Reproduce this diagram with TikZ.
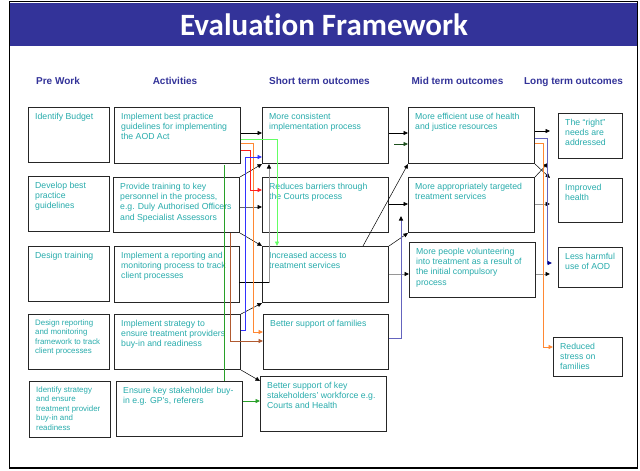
\documentclass[tikz,border=0pt]{standalone}
\usepackage{fontspec}
\setmainfont{Liberation Sans}
\newfontfamily\titlefont[Ligatures=NoCommon]{Carlito}
\usetikzlibrary{arrows.meta,calc}
\definecolor{band}{RGB}{51,51,153}
\definecolor{tealtxt}{RGB}{40,172,172}
\definecolor{cgreen}{RGB}{40,160,40}
\definecolor{clgreen}{RGB}{100,255,100}
\definecolor{corange}{RGB}{255,136,51}
\definecolor{cred}{RGB}{255,30,30}
\definecolor{cblue}{RGB}{50,50,255}
\definecolor{cbrown}{RGB}{176,90,48}
\definecolor{cpurple}{RGB}{100,100,190}
\definecolor{cdgreen}{RGB}{30,80,30}
\definecolor{cnavy}{RGB}{0,0,140}
\definecolor{cgray}{RGB}{150,150,150}
\tikzset{
  bx/.style={draw=black!85, line width=1pt, fill=white, inner sep=0pt},
  txt/.style={inner sep=0pt, align=left, text=tealtxt, font=\fontsize{8.7}{10.4}\selectfont},
  smalltxt/.style={font=\fontsize{7.9}{9.5}\selectfont},
  hdr/.style={text=band, anchor=base, font=\bfseries\fontsize{10}{12}\selectfont},
  conk/.style={line width=0.6pt, -{Triangle[length=4.5pt,width=4pt,black]}},
  conc/.style={line width=0.9pt, -{Triangle[length=4.5pt,width=4pt]}},
}
\newcommand\mkbox[7][]{%
  \node[bx,anchor=north west,minimum width={#5-#3},minimum height={#6-#4}] (#2) at (#3,#4) {};
  \node[txt,anchor=north west,#1] (#2t) at ([xshift=7pt,yshift=-5.5pt]#2.north west) {#7};}
\begin{document}
\begin{tikzpicture}[x=1pt,y=-1pt]
\useasboundingbox (0,0) rectangle (640,471);
\fill[white] (0,0) rectangle (640,471);
\fill[band] (10,3) rectangle (637,46);
\draw[line width=1.6pt] (9.5,1.5) rectangle (637.5,468);
\node[font=\titlefont\bfseries\fontsize{31}{31}\selectfont, text=white] (title) at (324,25) {Evaluation Framework};

\node[hdr] (h1) at (58,84) {Pre Work};
\node[hdr] (h2) at (175,84) {Activities};
\node[hdr] (h3) at (319.5,84) {Short term outcomes};
\node[hdr] (h4) at (457.5,84) {Mid term outcomes};
\node[hdr] (h5) at (573.5,84) {Long term outcomes};

% Pre work
\mkbox{P1}{28}{107}{109}{162}{Identify Budget}
\mkbox{P2}{28}{176}{109}{231}{Develop best\\practice\\guidelines}
\mkbox{P3}{28}{246}{109}{301}{Design training}
\mkbox[smalltxt]{P4}{28}{314}{109}{369}{Design reporting\\and monitoring\\framework to track\\client processes}
\mkbox[smalltxt]{P5}{29}{381}{110}{437}{Identify strategy\\and ensure\\treatment provider\\buy-in and\\readiness}
% Activities
\mkbox{A1}{114}{107}{240}{163}{Implement best practice\\guidelines for implementing\\the AOD Act}
\mkbox{A2}{113}{177}{239}{232}{Provide training to key\\personnel in the process,\\e.g. Duly Authorised Officers\\and Specialist Assessors}
\mkbox{A3}{114}{246}{239}{302}{Implement a reporting and\\monitoring process to track\\client processes}
\mkbox{A4}{114}{314}{240}{369}{Implement strategy to\\ensure treatment providers\\buy-in and readiness}
\mkbox{A5}{116}{381}{242}{436}{Ensure key stakeholder buy-\\in e.g. GP's, referers}
% Short term
\mkbox{S1}{262}{107}{388}{163}{More consistent\\implementation process}
\mkbox{S2}{262}{177}{388}{232}{Reduces barriers through\\the Courts process}
\mkbox{S3}{262}{246}{388}{302}{Increased access to\\treatment services}
\mkbox{S4}{263}{314}{388}{369}{Better support of families}
\mkbox{S5}{260}{376}{386}{431}{Better support of key\\stakeholders' workforce e.g.\\Courts and Health}
% Mid term
\mkbox{M1}{408}{107}{534}{163}{More efficient use of health\\and justice resources}
\mkbox{M2}{408}{177}{534}{232}{More appropriately targeted\\treatment services}
\mkbox{M3}{409}{242}{535}{297}{More people volunteering\\into treatment as a result of\\the initial compulsory\\process}
% Long term
\mkbox{L1}{558}{113}{622}{158}{The ``right''\\needs are\\addressed}
\mkbox{L2}{558}{178}{622}{222}{Improved\\health}
\mkbox{L3}{558}{247}{622}{287}{Less harmful\\use of AOD}
\mkbox{L4}{553}{337}{622}{376}{Reduced\\stress on\\families}

% ---- Activities -> Short term
\coordinate (c1) at ([yshift=-26pt]A1.north east);
\draw[conk] (c1) -- (c1 -| S1.west);
\draw[conk,line width=0.5pt] (A2.north east) -- (S1.south west);
\coordinate (c3) at ([yshift=-30pt]A2.north east);
\draw[conk,draw=black!60] (c3) -- (c3 -| S2.west);
\draw[conk,line width=0.5pt] (A2.south east) -- (S3.north west);
\coordinate (c5) at ([yshift=-36pt,xshift=-1pt]A3.north east);
\draw[conk,draw=cgray,line width=0.9pt] (c5) -| ([xshift=7pt]S1.south west);
\draw[line width=0.7pt] (c5) -- ++(30,0);
\draw[conk,line width=0.5pt] (A4.north east) -- (S3.south west);
\draw[conk,line width=0.5pt] (A4.south east) -- ([yshift=-5pt]S5.north west);
\coordinate (c8) at ([yshift=-20pt]A5.north east);
\draw[conc,draw=cgreen,line width=0.7pt] (c8) -- (c8 -| S5.west);
% green vertical
\coordinate (g1) at ([xshift=-17pt,yshift=-1pt]A1.south east);
\draw[cgreen,line width=0.9pt] (g1) -- (g1 |- A5.north);
% light green A1 -> S3
\coordinate (lg) at ([yshift=-32pt]A1.north east);
\draw[conc,draw=clgreen] (lg) -| ([xshift=15pt]S3.north west);
% orange A1 -> S4
\coordinate (o1) at ([yshift=-36pt]A1.north east);
\coordinate (o2) at ([yshift=-18pt]S4.north west);
\draw[conc,draw=corange] (o1) -- ++(12,0) |- (o2);
% red A1 -> S2
\coordinate (r1) at ([yshift=-43pt]A1.north east);
\coordinate (r2) at ([yshift=-13pt]S2.north west);
\draw[conc,draw=cred] (r1) -- ++(9,0) |- (r2);
% blue A4 -> S1
\coordinate (b1) at ([yshift=-16pt]A4.north east);
\coordinate (b2) at ([yshift=-50pt]S1.north west);
\draw[conc,draw=cblue] (b1) -- ++(4,0) |- (b2);
% brown A2 -> S4
\coordinate (br1) at ([xshift=-10pt]A2.south east);
\coordinate (br2) at ([yshift=-27pt]S4.north west);
\draw[conc,draw=cbrown] (br1) |- (br2);

% ---- Short term -> Mid term
\coordinate (d1) at ([yshift=-26pt]S1.north east);
\draw[conk] (d1) -- (d1 -| M1.west);
\coordinate (dg2) at ([yshift=-37pt]M1.north west);
\coordinate (dg1) at ([xshift=-14pt]dg2);
\draw[conc,draw=cdgreen,line width=0.7pt] (dg1) -- (dg2);
\draw[conk,line width=0.5pt] ([xshift=-26pt]S3.north east) -- (M1.south west);
\coordinate (d3) at ([yshift=-27pt]S2.north east);
\draw[conk] (d3) -- (d3 -| M2.west);
\draw[conk,line width=0.5pt] (S3.north east) -- (M2.south west);
\coordinate (d5) at ([yshift=-28pt]S3.north east);
\draw[conk,draw=cgray,line width=0.9pt] (d5) -- (d5 -| M3.west);
\coordinate (p1) at ([yshift=-24pt]S4.north east);
\coordinate (p2) at ([xshift=-7pt,yshift=17pt]M2.south west);
\draw[conk,draw=cpurple,line width=0.9pt] (p1) -| (p2);

% ---- Mid term -> Long term
\coordinate (e1) at ([yshift=-24pt]M1.north east);
\draw[conk,shorten >=8pt] (e1) -- (e1 -| L1.west);
\draw[conk,line width=0.5pt] (M1.south east) -- ([xshift=-8pt]L2.north west);
\draw[conk,line width=0.5pt] (M2.north east) -- ([xshift=-10pt,yshift=-4pt]L1.south west);
\coordinate (e4) at ([yshift=-27pt]M2.north east);
\draw[conk,draw=cgray,line width=0.9pt,shorten >=8pt] (e4) -- (e4 -| L2.west);
\coordinate (e5) at ([yshift=-32pt]M3.north east);
\draw[conk,draw=cgray,line width=0.9pt,shorten >=8pt] (e5) -- (e5 -| L3.west);
\coordinate (bl1) at ([yshift=-31pt]M1.north east);
\coordinate (bl2) at ([yshift=-16pt]L3.north west);
\draw[cpurple,line width=0.9pt,-{Triangle[length=4.5pt,width=4pt,cnavy]},shorten >=6pt] (bl1) -- ++(12,0) |- (bl2);
\coordinate (ol1) at ([yshift=-36pt]M1.north east);
\coordinate (ol2) at ([yshift=-10pt]L4.north west);
\draw[conc,draw=corange] (ol1) -- ++(8,0) |- (ol2);
\end{tikzpicture}
\end{document}
